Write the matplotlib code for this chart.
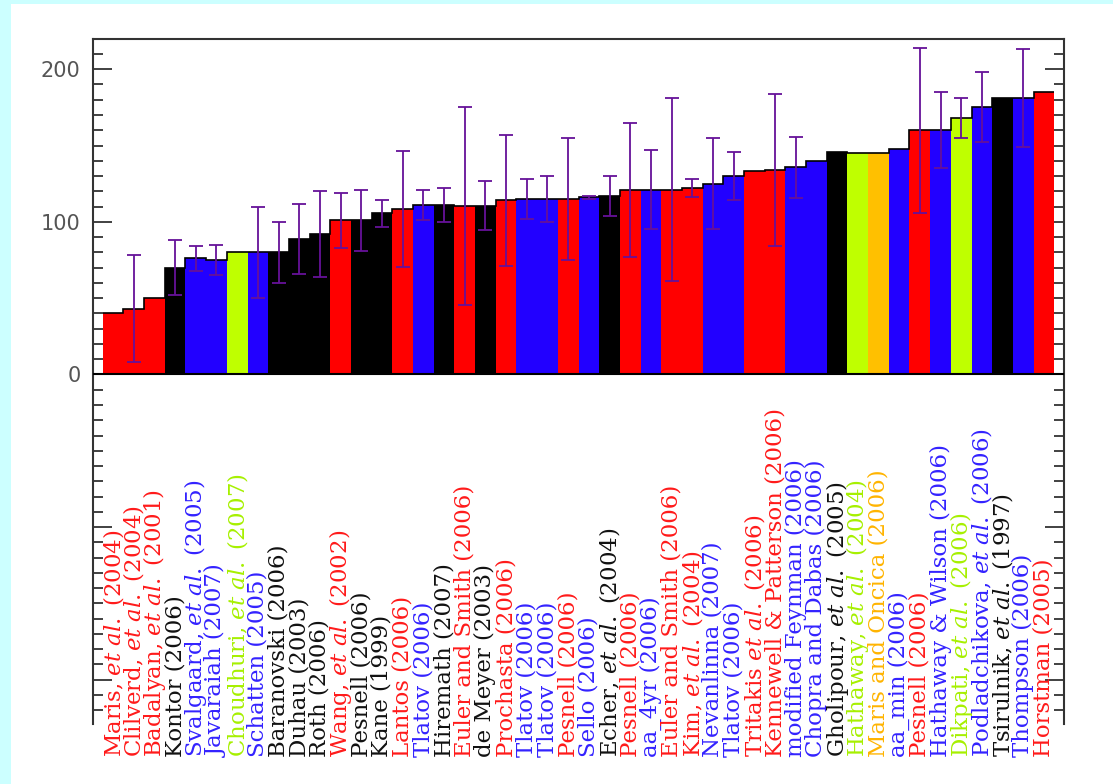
import matplotlib
matplotlib.use("Agg")
import matplotlib.pyplot as plt
import matplotlib.transforms as mtransforms
from matplotlib.patches import Rectangle
from matplotlib.ticker import FixedLocator, MultipleLocator, FuncFormatter
import numpy as np

# Predicciones (ordenadas por valor)
etiquetas = [
    r"Maris, $\mathit{et\ al.}$ (2004)", r"Clilverd, $\mathit{et\ al.}$ (2004)",
    r"Badalyan, $\mathit{et\ al.}$ (2001)", "Kontor (2006)",
    r"Svalgaard, $\mathit{et\ al.}$ (2005)", "Javaraiah (2007)",
    r"Choudhuri, $\mathit{et\ al.}$ (2007)", "Schatten (2005)",
    "Baranovski (2006)", "Duhau (2003)", "Roth (2006)",
    r"Wang, $\mathit{et\ al.}$ (2002)", "Pesnell (2006)", "Kane (1999)",
    "Lantos (2006)", "Tlatov (2006)", "Hiremath (2007)",
    "Euler and Smith (2006)", "de Meyer (2003)", "Prochasta (2006)",
    "Tlatov (2006)", "Tlatov (2006)", "Pesnell (2006)", "Sello (2006)",
    r"Echer, $\mathit{et\ al.}$ (2004)", "Pesnell (2006)", "aa_4yr (2006)",
    "Euler and Smith (2006)", r"Kim, $\mathit{et\ al.}$ (2004)",
    "Nevanlinna (2007)", "Tlatov (2006)", r"Tritakis $\mathit{et\ al.}$ (2006)",
    "Kennewell & Patterson (2006)", "modified Feynman (2006)",
    "Chopra and Dabas (2006)", r"Gholipour, $\mathit{et\ al.}$ (2005)",
    r"Hathaway, $\mathit{et\ al.}$ (2004)", "Maris and Oncica (2006)",
    "aa_min (2006)", "Pesnell (2006)", "Hathaway & Wilson (2006)",
    r"Dikpati, $\mathit{et\ al.}$ (2006)", r"Podladchikova, $\mathit{et\ al.}$ (2006)",
    r"Tsirulnik, $\mathit{et\ al.}$ (1997)", "Thompson (2006)", "Horstman (2005)",
]
valores = [40, 43, 50, 70, 76, 75, 80, 80, 80, 89,
           92, 101, 101, 105.5, 108.5, 111, 111, 110.5, 110.5, 114,
           115, 115, 115, 116, 117, 121, 121, 121, 122, 125,
           130, 133, 134, 135.7, 140, 146, 145, 145, 148, 160,
           160, 168, 175, 181, 181, 185]
errores = [0, 35, 0, 18, 8, 10, 0, 30, 20, 23,
           28, 18, 20, 9, 38, 10, 11, 65, 16, 43,
           13, 15, 40, 1, 13, 44, 26, 60, 6, 30,
           16, 0, 50, 20, 0, 0, 0, 0, 0, 54,
           25, 13, 23, 0, 32, 0]
grupos = ['r', 'r', 'r', 'k', 'b', 'b', 'g', 'b', 'k', 'k',
          'k', 'r', 'k', 'k', 'r', 'b', 'k', 'r', 'k', 'r',
          'b', 'b', 'r', 'b', 'k', 'r', 'b', 'r', 'r', 'b',
          'b', 'r', 'r', 'b', 'b', 'k', 'g', 'o', 'b', 'r',
          'b', 'g', 'b', 'k', 'b', 'r']

color_barra = {'r': '#ff0000', 'b': '#2200ff', 'k': '#000000',
               'g': '#bfff00', 'o': '#ffc000'}
color_texto = {'r': '#ff1a1a', 'b': '#3322ff', 'k': '#111111',
               'g': '#a6f000', 'o': '#ffb400'}

plt.rcParams['mathtext.fontset'] = 'dejavuserif'

fig = plt.figure(figsize=(11.13, 7.84), dpi=100, facecolor='#ccffff')
fig.add_artist(Rectangle((11 / 1113, 0), 1, 780 / 784, transform=fig.transFigure,
                         facecolor='white', edgecolor='none', zorder=-1))
ax = fig.add_axes([93 / 1113, 60 / 784, (1064 - 93) / 1113, (724 - 38.7) / 784])

x = np.arange(len(valores))
ax.bar(x, valores, width=1.0, color=[color_barra[g] for g in grupos],
       edgecolor='none', zorder=2)
ax.stairs(valores, np.arange(len(valores) + 1) - 0.5, baseline=None,
          color='black', lw=1.2, zorder=3)
ax.axhline(0, color='black', lw=1.5, zorder=3)

# Barras de error
xe = [xi for xi, e in zip(x, errores) if e > 0]
ye = [v for v, e in zip(valores, errores) if e > 0]
ee = [e for e in errores if e > 0]
ax.errorbar(xe, ye, yerr=ee, fmt='none', ecolor='#661199', elinewidth=1.3,
            capsize=5, capthick=1.3, zorder=4)

ax.set_xlim(-0.97, 45.97)
ax.set_ylim(-229, 220)

ax.spines['bottom'].set_visible(False)
for s in ['left', 'right', 'top']:
    ax.spines[s].set_linewidth(1.5)
    ax.spines[s].set_color('#333333')

ax.set_xticks([])
ax.yaxis.set_major_locator(FixedLocator([-200, -100, 0, 100, 200]))
ax.yaxis.set_minor_locator(MultipleLocator(10))
ax.yaxis.set_major_formatter(FuncFormatter(lambda v, p: f"{v:.0f}" if v >= 0 else ""))
ax.tick_params(axis='y', which='both', direction='in', left=True, right=True,
               color='#333333', width=1.3)
ax.tick_params(axis='y', which='major', length=14, pad=9,
               labelsize=15, labelcolor='#555555')
ax.tick_params(axis='y', which='minor', length=7)

# Etiquetas verticales
trans = mtransforms.blended_transform_factory(ax.transData, fig.transFigure)
for xi, txt, g in zip(x, etiquetas, grupos):
    ax.text(xi, 0.035, txt, transform=trans, rotation=90, ha='center', va='bottom',
            fontsize=16.5, family='DejaVu Serif', color=color_texto[g],
            clip_on=False)

plt.savefig("out.png", dpi=100, facecolor=fig.get_facecolor())
